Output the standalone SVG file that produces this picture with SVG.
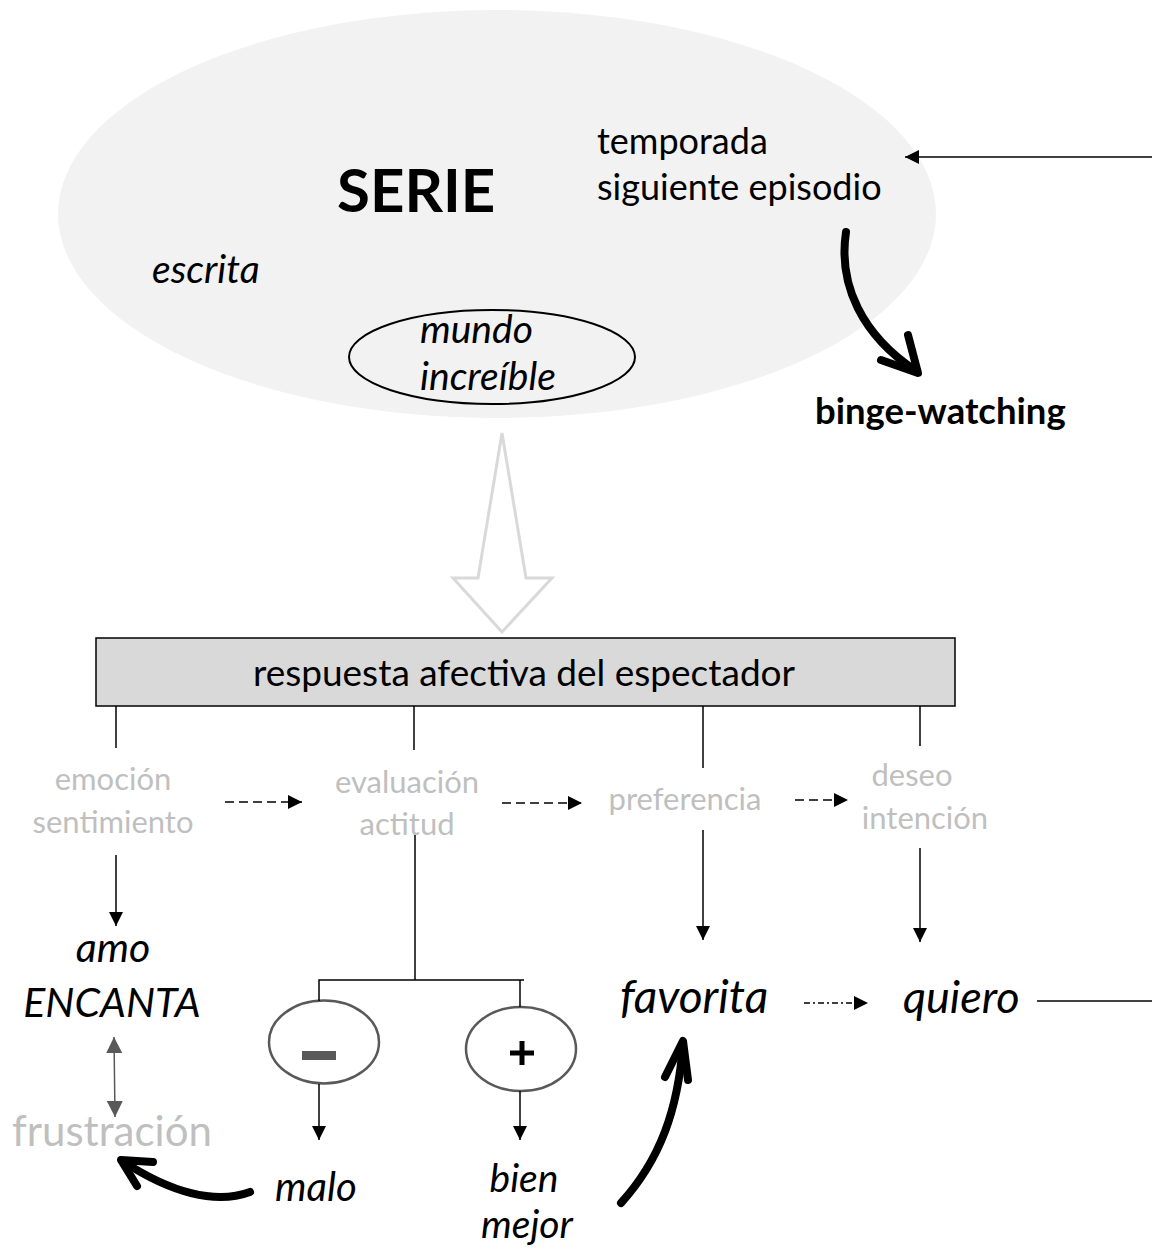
<svg xmlns="http://www.w3.org/2000/svg" width="1152" height="1249" viewBox="0 0 1152 1249">
<style>
text{font-family:Lato,"Open Sans","Liberation Sans",sans-serif;fill:#000}
.b{font-size:36px}
.it{font-style:italic;font-size:39px}
.g{fill:#bfbfbf;font-size:31px}
.ln{stroke:#000;stroke-width:1.5;fill:none}
.dash{stroke:#000;stroke-width:1.5;fill:none;stroke-dasharray:9 5}
.thick{stroke:#000;stroke-width:8;fill:none;stroke-linecap:round;stroke-linejoin:round}
</style>
<defs>
<marker id="ahL" viewBox="0 0 10 10" refX="10" refY="5" markerWidth="14" markerHeight="14" markerUnits="userSpaceOnUse" orient="auto">
<path d="M0 0L10 5L0 10z" fill="#000"/>
</marker>
<marker id="ahG" viewBox="0 0 10 10" refX="10" refY="5" markerWidth="16" markerHeight="16" markerUnits="userSpaceOnUse" orient="auto-start-reverse">
<path d="M0 0L10 5L0 10z" fill="#595959"/>
</marker>
</defs>

<g id="serie">
<ellipse cx="497" cy="214" rx="439" ry="204" fill="#f2f2f2"/>
<text x="337" y="212" style="font-size:60px;font-weight:bold">SERIE</text>
<text class="b" x="597" y="154">temporada</text>
<text class="b" x="597" y="200">siguiente episodio</text>
<text class="it" x="152" y="283">escrita</text>
</g>

<g id="mundo">
<ellipse cx="492" cy="357" rx="143" ry="47" fill="none" stroke="#000" stroke-width="2"/>
<text class="it" x="420" y="343">mundo</text>
<text class="it" x="420" y="390">increíble</text>
</g>

<g id="binge">
<text x="815" y="424" style="font-size:36.5px;font-weight:bold">binge-watching</text>
</g>

<g id="hollow-arrow">
<polygon points="502,433 526,578 552,578 502,632 453,578 478,578" fill="#fff" stroke="#d9d9d9" stroke-width="3"/>
</g>

<g id="respuesta">
<rect x="96" y="638" width="859" height="68" fill="#d9d9d9" stroke="#000" stroke-width="1.5"/>
<text x="524" y="686" text-anchor="middle" style="font-size:37px">respuesta afectiva del espectador</text>
</g>

<g id="emocion"><text class="g" x="113" y="790" text-anchor="middle">emoción</text><text class="g" x="113" y="833" text-anchor="middle">sentimiento</text></g>
<g id="evaluacion"><text class="g" x="407" y="793" text-anchor="middle">evaluación</text><text class="g" x="407" y="835" text-anchor="middle">actitud</text></g>
<g id="preferencia"><text class="g" x="685" y="810" text-anchor="middle">preferencia</text></g>
<g id="deseo"><text class="g" x="912" y="786" text-anchor="middle">deseo</text><text class="g" x="925" y="829" text-anchor="middle">intención</text></g>

<g id="amo"><text class="it" x="113" y="962" text-anchor="middle" style="font-size:41px">amo</text><text class="it" x="112" y="1017" text-anchor="middle" style="font-size:41px">ENCANTA</text></g>
<g id="frustracion"><text x="12" y="1146" style="font-size:42px;fill:#bfbfbf">frustración</text></g>

<g id="minus">
<ellipse cx="324" cy="1042" rx="55" ry="41.5" fill="none" stroke="#595959" stroke-width="2.5"/>
<rect x="302" y="1051" width="34" height="9" fill="#595959"/>
</g>
<g id="plus">
<ellipse cx="521" cy="1049" rx="55" ry="42" fill="none" stroke="#595959" stroke-width="2.5"/>
<path d="M510 1053H534M522 1041V1065" stroke="#000" stroke-width="5"/>
</g>

<g id="malo"><text class="it" x="275" y="1201" style="font-size:40px">malo</text></g>
<g id="bien"><text class="it" x="524" y="1192" text-anchor="middle">bien</text><text class="it" x="527" y="1238" text-anchor="middle">mejor</text></g>
<g id="favorita"><text class="it" x="620" y="1013" style="font-size:46px">favorita</text></g>
<g id="quiero"><text class="it" x="903" y="1013" style="font-size:45px">quiero</text></g>

<g id="connectors">
<line class="ln" x1="1152" y1="157" x2="905" y2="157" marker-end="url(#ahL)"/>
<path class="thick" d="M846 232C838 285 862 335 916 371"/>
<path class="thick" d="M908 335L918 373L881 360"/>

<line class="ln" x1="116" y1="706" x2="116" y2="748"/>
<line class="ln" x1="414" y1="706" x2="414" y2="750"/>
<line class="ln" x1="703" y1="706" x2="703" y2="768"/>
<line class="ln" x1="920" y1="706" x2="920" y2="746"/>

<line class="dash" x1="225" y1="802" x2="302" y2="802" marker-end="url(#ahL)"/>
<line class="dash" x1="502" y1="803" x2="582" y2="803" marker-end="url(#ahL)"/>
<line class="dash" x1="795" y1="800" x2="848" y2="800" marker-end="url(#ahL)"/>

<line class="ln" x1="116" y1="855" x2="116" y2="926" marker-end="url(#ahL)"/>
<line class="ln" x1="703" y1="830" x2="703" y2="940" marker-end="url(#ahL)"/>
<line class="ln" x1="920" y1="848" x2="920" y2="942" marker-end="url(#ahL)"/>

<polyline class="ln" points="415,835 415,980"/>
<polyline class="ln" points="319,1001 319,980 524,980"/>
<line class="ln" x1="520" y1="980" x2="520" y2="1007"/>
<line class="ln" x1="319" y1="1084" x2="319" y2="1140" marker-end="url(#ahL)"/>
<line class="ln" x1="520" y1="1091" x2="520" y2="1140" marker-end="url(#ahL)"/>

<line x1="114" y1="1037" x2="115" y2="1117" stroke="#595959" stroke-width="1.5" marker-start="url(#ahG)" marker-end="url(#ahG)"/>

<path class="thick" d="M250 1192C215 1205 170 1192 124 1162"/>
<path class="thick" d="M153 1162L121 1160L137 1186"/>

<path class="thick" d="M621 1203C660 1160 678 1110 683 1044"/>
<path class="thick" d="M665 1077L683 1041L688 1080"/>

<line x1="804" y1="1003" x2="868" y2="1003" stroke="#000" stroke-width="1.5" stroke-dasharray="6 3 2 3" marker-end="url(#ahL)"/>
<line class="ln" x1="1037" y1="1001" x2="1152" y2="1001"/>
</g>
</svg>
